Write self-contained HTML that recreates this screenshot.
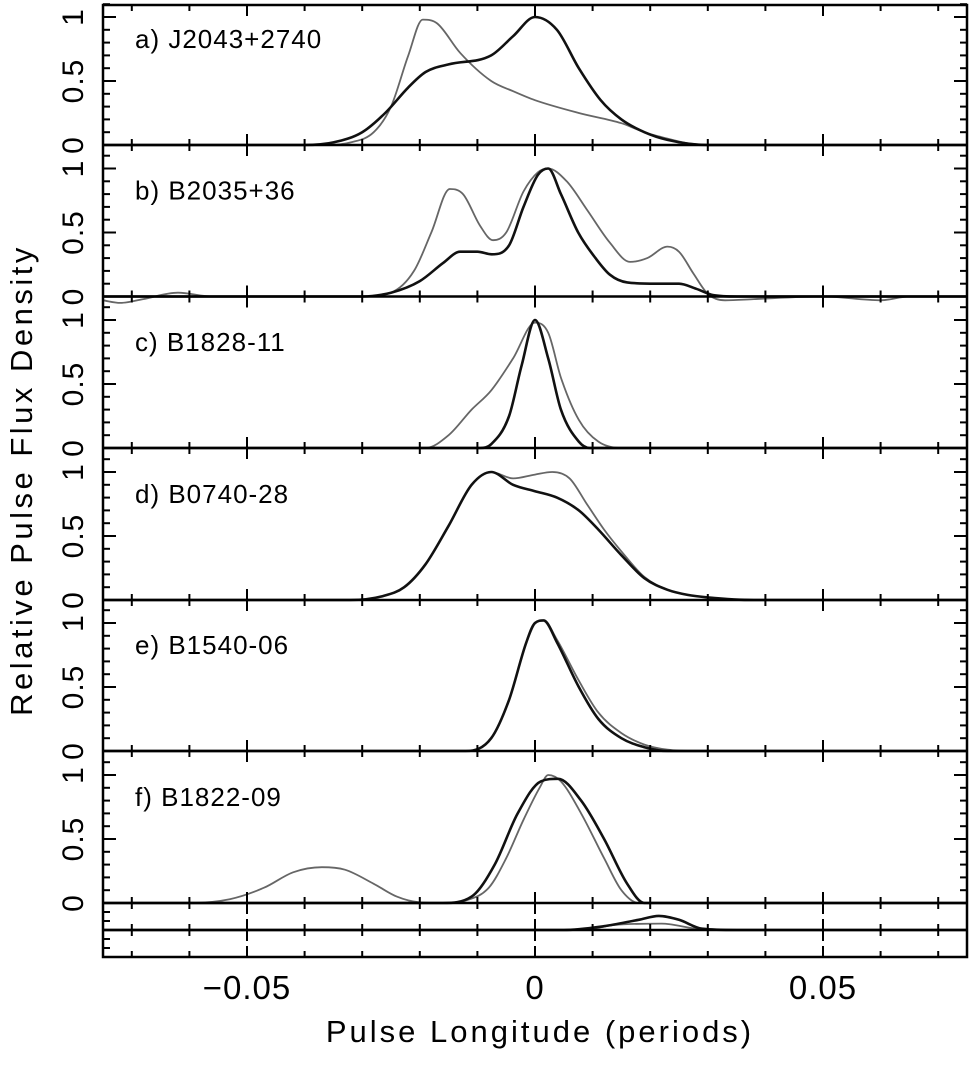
<!DOCTYPE html>
<html><head><meta charset="utf-8"><style>
body{margin:0;background:#fff}
svg{display:block;font-family:"Liberation Sans",sans-serif}
</style></head><body>
<svg id="chart" width="975" height="1081" viewBox="0 0 975 1081">
<rect width="975" height="1081" fill="#fff"/>
<g id="marks"></g>
<g id="axes"></g>
<text x="540" y="1042" font-size="31" text-anchor="middle" letter-spacing="3">Pulse Longitude (periods)</text>
<text transform="translate(32,480) rotate(-90)" font-size="31" text-anchor="middle" letter-spacing="3.5">Relative Pulse Flux Density</text>
</svg>
<script>
const panelNames = ["a) J2043+2740","b) B2035+36","c) B1828-11","d) B0740-28","e) B1540-06","f) B1822-09"];
const xTickValues = [-0.05, 0, 0.05];
const xTickLabels = ["\u22120.05","0","0.05"];
const yTickValues = [0, 0.5, 1];
const yTickLabels = ["0","0.5","1"];
const blackA = [[-0.075,0],[-0.04,0],[-0.035,0.02],[-0.03,0.1],[-0.026,0.25],[-0.022,0.45],[-0.019,0.57],[-0.015,0.63],[-0.0076,0.7],[-0.0038,0.85],[0,1.0],[0.0038,0.9],[0.0076,0.6],[0.0114,0.35],[0.015,0.2],[0.019,0.1],[0.023,0.04],[0.03,0],[0.075,0]];
const grayA = [[-0.075,0],[-0.036,0],[-0.032,0.02],[-0.028,0.1],[-0.025,0.3],[-0.022,0.7],[-0.0195,0.98],[-0.017,0.95],[-0.013,0.72],[-0.0076,0.5],[-0.0038,0.42],[0,0.35],[0.0076,0.25],[0.015,0.17],[0.019,0.1],[0.023,0.05],[0.027,0.01],[0.032,0],[0.075,0]];
const blackB = [[-0.075,0],[-0.03,0],[-0.025,0.03],[-0.02,0.12],[-0.016,0.26],[-0.013,0.35],[-0.01,0.35],[-0.0075,0.33],[-0.0045,0.4],[-0.002,0.7],[0.0005,0.95],[0.0023,1.0],[0.0045,0.8],[0.0075,0.5],[0.0105,0.3],[0.013,0.17],[0.016,0.11],[0.021,0.1],[0.025,0.1],[0.028,0.06],[0.031,0.01],[0.035,0],[0.075,0]];
const grayB = [[-0.075,-0.03],[-0.072,-0.05],[-0.068,-0.02],[-0.062,0.03],[-0.056,0],[-0.04,0],[-0.03,0],[-0.025,0.03],[-0.021,0.2],[-0.018,0.5],[-0.0148,0.84],[-0.0125,0.8],[-0.0095,0.55],[-0.0073,0.44],[-0.005,0.5],[-0.002,0.82],[0.0005,0.97],[0.0023,1.0],[0.0055,0.9],[0.009,0.68],[0.013,0.42],[0.0165,0.27],[0.0195,0.3],[0.023,0.39],[0.025,0.35],[0.0275,0.18],[0.03,0.02],[0.033,-0.03],[0.038,-0.02],[0.05,0],[0.06,-0.03],[0.065,0],[0.075,0]];
const blackC = [[-0.075,0],[-0.0095,0],[-0.0076,0.03],[-0.0045,0.25],[-0.0023,0.65],[0,1.0],[0.0023,0.7],[0.0045,0.3],[0.0076,0.05],[0.0095,0],[0.075,0]];
const grayC = [[-0.075,0],[-0.019,0],[-0.015,0.1],[-0.011,0.3],[-0.0076,0.45],[-0.0038,0.7],[0,0.98],[0.0023,0.9],[0.0045,0.55],[0.0076,0.22],[0.011,0.05],[0.015,0],[0.075,0]];
const blackD = [[-0.075,0],[-0.032,0],[-0.0265,0.03],[-0.0227,0.1],[-0.019,0.28],[-0.015,0.58],[-0.011,0.9],[-0.0076,1.0],[-0.0038,0.9],[0,0.85],[0.0038,0.8],[0.0076,0.7],[0.011,0.55],[0.015,0.35],[0.019,0.17],[0.023,0.08],[0.0265,0.04],[0.03,0.02],[0.038,0],[0.075,0]];
const grayD = [[-0.075,0],[-0.032,0],[-0.0265,0.03],[-0.0227,0.1],[-0.019,0.28],[-0.015,0.58],[-0.011,0.9],[-0.0076,1.0],[-0.0038,0.95],[0,0.98],[0.003,1.0],[0.006,0.95],[0.009,0.75],[0.012,0.55],[0.015,0.38],[0.019,0.18],[0.023,0.08],[0.0265,0.04],[0.03,0.02],[0.038,0],[0.075,0]];
const blackE = [[-0.075,0],[-0.012,0],[-0.0076,0.1],[-0.0045,0.4],[-0.0015,0.85],[0,1.0],[0.0015,1.02],[0.0038,0.85],[0.0076,0.5],[0.011,0.25],[0.015,0.1],[0.019,0.03],[0.023,0],[0.075,0]];
const grayE = [[-0.075,0],[-0.012,0],[-0.0076,0.1],[-0.0045,0.4],[-0.0015,0.85],[0,1.0],[0.0015,1.02],[0.0038,0.87],[0.0076,0.55],[0.011,0.3],[0.015,0.14],[0.019,0.05],[0.023,0.01],[0.028,0],[0.075,0]];
const blackF = [[-0.075,0],[-0.016,0],[-0.011,0.05],[-0.007,0.3],[-0.003,0.7],[0.001,0.95],[0.004,0.97],[0.008,0.8],[0.012,0.5],[0.016,0.15],[0.019,0],[0.075,0]];
const grayF = [[-0.075,0],[-0.06,0],[-0.053,0.03],[-0.047,0.12],[-0.042,0.24],[-0.037,0.28],[-0.033,0.26],[-0.028,0.15],[-0.024,0.05],[-0.02,0.005],[-0.016,0],[-0.012,0.02],[-0.008,0.12],[-0.005,0.35],[-0.002,0.65],[0.0008,0.9],[0.0023,1.0],[0.0045,0.95],[0.008,0.7],[0.012,0.35],[0.015,0.1],[0.018,0],[0.075,0]];
const blackStrip = [[-0.075,0],[0.005,0],[0.012,0.03],[0.018,0.08],[0.0215,0.11],[0.025,0.08],[0.029,0.01],[0.035,0],[0.075,0]];
const grayStrip = [[-0.075,0],[0.008,0],[0.014,0.04],[0.022,0.05],[0.028,0.01],[0.034,0],[0.075,0]];

const blackSeries=[blackA,blackB,blackC,blackD,blackE,blackF,blackStrip];
const graySeries=[grayA,grayB,grayC,grayD,grayE,grayF,grayStrip];
const NS="http://www.w3.org/2000/svg";
const L=103,R=967,T=5,B=957,X0=-0.075,X1=0.075,YS=128;
const baselines=[145,296.5,448,600,751,903,930];
function xs(v){return L+(v-X0)/(X1-X0)*(R-L);}
function ys(i,v){return baselines[i]-v*YS;}
const marks=document.getElementById('marks'), axes=document.getElementById('axes');
function mk(tag,attrs,parent){const e=document.createElementNS(NS,tag);for(const k in attrs)e.setAttribute(k,attrs[k]);parent.appendChild(e);return e;}
// monotone cubic (Fritsch-Carlson) in x
function pathD(p){
  const n=p.length, d=[], m=new Array(n);
  for(let i=0;i<n-1;i++) d.push((p[i+1][1]-p[i][1])/(p[i+1][0]-p[i][0]));
  m[0]=d[0]; m[n-1]=d[n-2];
  for(let i=1;i<n-1;i++){ m[i]=(d[i-1]*d[i]<=0)?0:(d[i-1]+d[i])/2; }
  for(let i=0;i<n-1;i++){
    if(d[i]===0){m[i]=0;m[i+1]=0;continue;}
    const a=m[i]/d[i], b=m[i+1]/d[i], s=a*a+b*b;
    if(s>9){const t=3/Math.sqrt(s); m[i]=t*a*d[i]; m[i+1]=t*b*d[i];}
  }
  let s="M"+p[0][0].toFixed(1)+","+p[0][1].toFixed(1);
  for(let i=0;i<n-1;i++){
    const h=(p[i+1][0]-p[i][0])/3;
    s+=" C"+(p[i][0]+h).toFixed(1)+","+(p[i][1]+m[i]*h).toFixed(1)+" "+(p[i+1][0]-h).toFixed(1)+","+(p[i+1][1]-m[i+1]*h).toFixed(1)+" "+p[i+1][0].toFixed(1)+","+p[i+1][1].toFixed(1);
  }
  return s;
}
for(let i=0;i<7;i++){
  const g=mk('path',{d:pathD(graySeries[i].map(p=>[xs(p[0]),ys(i,p[1])])),fill:'none',stroke:'#666',"stroke-width":1.8},marks);
  
  
  const b=mk('path',{d:pathD(blackSeries[i].map(p=>[xs(p[0]),ys(i,p[1])])),fill:'none',stroke:'#111',"stroke-width":2.6},marks);
  
  
}
const fr=mk('rect',{x:L,y:T,width:R-L,height:B-T,fill:'none',stroke:'#000',"stroke-width":2.5},axes);


const lines=[T,...baselines,B];
lines.forEach((yb,k)=>{
  if(k>0&&k<lines.length-1){
    const ln=mk('line',{x1:L,x2:R,y1:yb,y2:yb,stroke:'#000',"stroke-width":2.5},axes);
    
    
  }
  for(let m=-7;m<=7;m++){
    const v=m*0.01, x=xs(v), major=(m%5===0), h=major?11:6;
    const y1=k===0?yb:yb-h, y2=k===lines.length-1?yb:yb+h;
    const t=mk('line',{x1:x,x2:x,y1:y1,y2:y2,stroke:'#000',"stroke-width":2},axes);
    
    
  }
});
for(let i=0;i<6;i++){
  const top=i===0?T:baselines[i-1];
  for(let k=0;k<=11;k++){
    const y=ys(i,k/10); if(y<top-1) continue;
    const major=(k%5===0), h=major?13:7;
    [[L,L+h],[R,R-h]].forEach(s=>{
      const t=mk('line',{x1:s[0],x2:s[1],y1:y,y2:y,stroke:'#000',"stroke-width":2},axes);
      
      
    });
  }
  yTickValues.forEach((v,j)=>{
    const y=ys(i,v);
    const t=mk('text',{transform:`translate(83,${y}) rotate(-90)`,"font-size":30,"text-anchor":"middle","letter-spacing":"1"},axes);
    t.textContent=yTickLabels[j];
    
    
  });
  const lab=mk('text',{x:135,y:ys(i,0.83)+9,"font-size":26,"letter-spacing":"1"},axes);
  lab.textContent=panelNames[i];
  
  
}
for(let k=1;k<=2;k++){
  [baselines[6]-k*9,baselines[6]+k*9].forEach(y=>{
    const t=mk('line',{x1:L,x2:L+7,y1:y,y2:y,stroke:'#000',"stroke-width":2},axes);
    
    
  });
}
xTickValues.forEach((v,j)=>{
  const t=mk('text',{x:xs(v),y:999,"font-size":33,"text-anchor":"middle","letter-spacing":"1"},axes);
  t.textContent=xTickLabels[j];
  
  
});
</script>
</body></html>
